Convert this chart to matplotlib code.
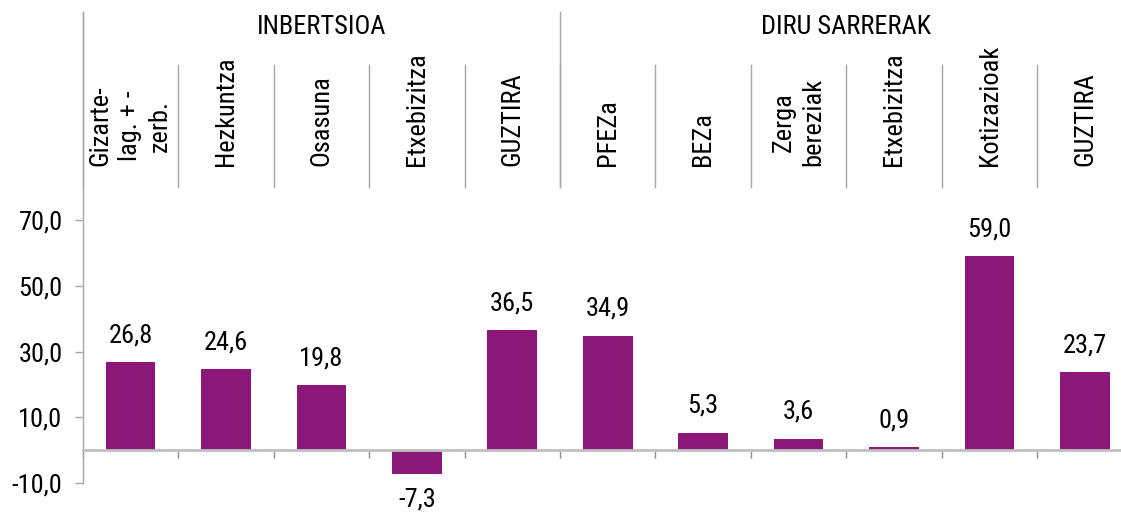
import numpy as np
import matplotlib
matplotlib.use("Agg")
import matplotlib.pyplot as plt
from matplotlib import font_manager

# --- Data ---
groups = ["INBERTSIOA", "DIRU SARRERAK"]
group_sizes = [5, 6]
categories = ["Gizarte-\nlag. + -\nzerb.", "Hezkuntza", "Osasuna", "Etxebizitza", "GUZTIRA",
              "PFEZa", "BEZa", "Zerga\nbereziak", "Etxebizitza", "Kotizazioak", "GUZTIRA"]
values = [26.8, 24.6, 19.8, -7.3, 36.5, 34.9, 5.3, 3.6, 0.9, 59.0, 23.7]
yticks = [-10, 10, 30, 50, 70]

# --- Font: a narrow family if one is installed ---
names = {f.name for f in font_manager.fontManager.ttflist}
FONT = "DejaVu Sans"
for cand in ["Roboto Condensed", "PT Sans Narrow", "Open Sans Condensed"]:
    if cand in names:
        FONT = cand
        break
plt.rcParams["font.family"] = [FONT, "DejaVu Sans"]

BAR = "#8B1878"
GRID = "#a6a6a6"
FS = 19

fig = plt.figure(figsize=(11.21, 5.15), dpi=100)
W, H = 1121, 515
x0, x1 = 82.7, 82.7 + 11 * 95.46
ytop, ybot = 12, 483.3
ax = fig.add_axes([x0 / W, (H - ybot) / H, (x1 - x0) / W, (ybot - ytop) / H])

x = np.arange(len(values))
ax.bar(x, values, width=0.52, color=BAR, zorder=1)

px_per_unit = (483.3 - 220) / 80
ax.set_xlim(-0.5, len(values) - 0.5)
ax.set_ylim(-10, -10 + (ybot - ytop) / px_per_unit)

ax.spines["top"].set_visible(False)
ax.spines["right"].set_visible(False)
ax.spines["left"].set_color(GRID)
ax.spines["left"].set_linewidth(1)
ax.spines["bottom"].set_position(("data", 0))
ax.spines["bottom"].set_color("#c0c0c0")
ax.spines["bottom"].set_linewidth(2)

ax.set_yticks(yticks)
ax.set_yticklabels([f"{v:.1f}".replace(".", ",") for v in yticks], fontsize=FS)
ax.tick_params(axis="y", direction="out", length=6, width=1, color=GRID, pad=8.5)
ax.set_xticks(np.arange(-0.5, len(values), 1))
ax.set_xticklabels([])
ax.tick_params(axis="x", direction="out", length=6, width=1, color="#8c8c8c")

# value labels
for xi, v in zip(x, values):
    lab = f"{v:.1f}".replace(".", ",")
    if v >= 0:
        ax.annotate(lab, (xi, v), xytext=(0, 14.5), textcoords="offset points",
                    ha="center", va="baseline", fontsize=FS)
    else:
        ax.annotate(lab, (xi, v), xytext=(0, -9.5), textcoords="offset points",
                    ha="center", va="top", fontsize=FS)

# header: category labels, separators, group labels
tr = ax.get_xaxis_transform()
frac = lambda p: (ybot - p) / (ybot - ytop)
for xi, c in zip(x, categories):
    ax.text(xi, frac(166), c, transform=tr, rotation=90, ha="center", va="bottom",
            multialignment="center", fontsize=FS, linespacing=1.3)
for b in np.arange(0.5, len(values) - 0.5, 1):
    ax.plot([b, b], [frac(187), frac(65)], transform=tr, color=GRID, lw=1, clip_on=False)
start = 0
for g, n in zip(groups, group_sizes):
    ax.plot([start - 0.5, start - 0.5], [frac(187), 1.0], transform=tr, color=GRID, lw=1,
            clip_on=False)
    ax.text(start - 0.5 + n / 2, frac(27), g, transform=tr, ha="center", va="center",
            fontsize=FS)
    start += n

fig.savefig("out.png", dpi=100)
